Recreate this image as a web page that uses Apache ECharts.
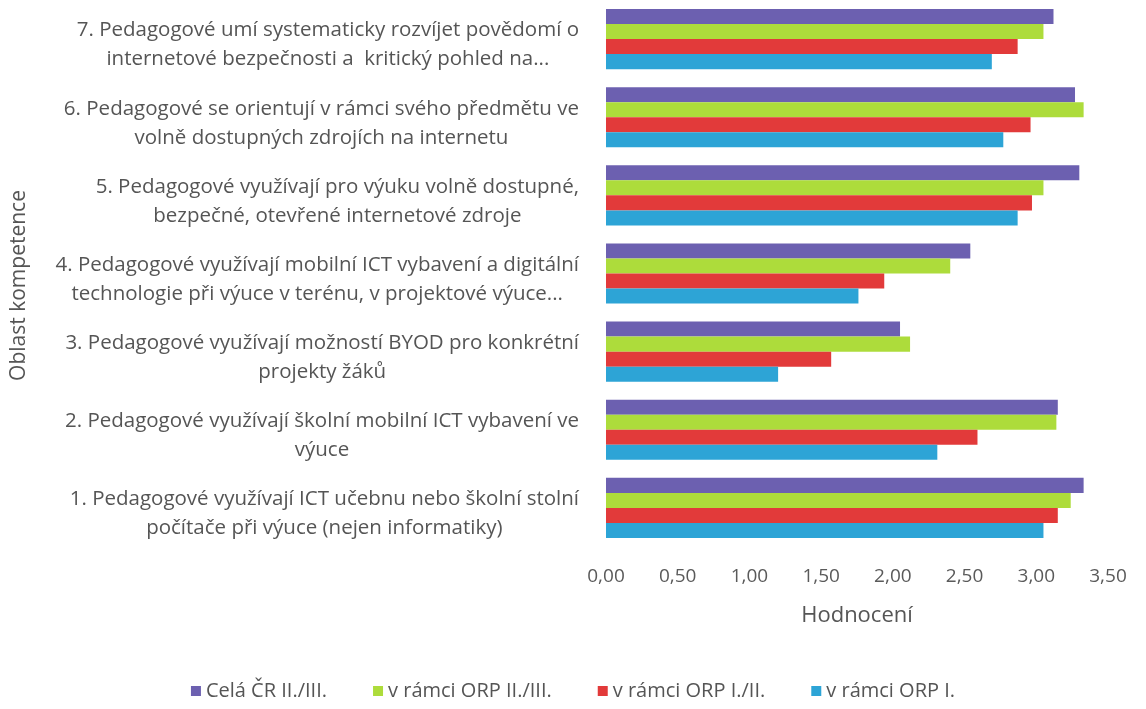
<!DOCTYPE html>
<html>
<head>
<meta charset="utf-8">
<title>Oblast kompetence - hodnocení</title>
<script src="https://cdn.jsdelivr.net/npm/echarts@6.0.0/dist/echarts.min.js"></script>
<style>
  html, body { margin: 0; padding: 0; background: #fff; }
  #chart { width: 1146px; height: 709px; }
</style>
</head>
<body>
<div id="chart"></div>
<script>
  // kategorie shora dolů (osa y je obrácená)
  var categories = [
    '7. Pedagogové umí systematicky rozvíjet povědomí o\ninternetové bezpečnosti a  kritický pohled na...',
    '6. Pedagogové se orientují v rámci svého předmětu ve\nvolně dostupných zdrojích na internetu',
    '5. Pedagogové využívají pro výuku volně dostupné,\nbezpečné, otevřené internetové zdroje',
    '4. Pedagogové využívají mobilní ICT vybavení a digitální\ntechnologie při výuce v terénu, v projektové výuce...',
    '3. Pedagogové využívají možností BYOD pro konkrétní\nprojekty žáků',
    '2. Pedagogové využívají školní mobilní ICT vybavení ve\nvýuce',
    '1. Pedagogové využívají ICT učebnu nebo školní stolní\npočítače při výuce (nejen informatiky)'
  ];

  var seriesNames = ['Celá ČR II./III.', 'v rámci ORP II./III.', 'v rámci ORP I./II.', 'v rámci ORP I.'];
  var seriesColors = ['#6C60B0', '#ADDC3B', '#E23A3A', '#2DA4D6'];

  var celaCR = [3.12, 3.27, 3.30, 2.54, 2.05, 3.15, 3.33];
  var orpIIIII = [3.05, 3.33, 3.05, 2.40, 2.12, 3.14, 3.24];
  var orpIII = [2.87, 2.96, 2.97, 1.94, 1.57, 2.59, 3.15];
  var orpI = [2.69, 2.77, 2.87, 1.76, 1.20, 2.31, 3.05];

  var xTicks = { min: 0, max: 3.5, interval: 0.5 };

  var seriesData = [celaCR, orpIIIII, orpIII, orpI];
  var font = '"Open Sans", "Noto Sans", sans-serif';

  var myChart = echarts.init(document.getElementById('chart'));

  var series = [];
  for (var i = 0; i < seriesNames.length; i++) {
    series.push({
      name: seriesNames[i],
      type: 'bar',
      data: seriesData[i],
      barGap: '0%',
      barCategoryGap: '23%',
      itemStyle: { color: seriesColors[i] }
    });
  }

  myChart.setOption({
    animation: false,
    grid: {
      left: 606,
      right: 38,
      top: 0,
      bottom: 162
    },
    legend: {
      data: seriesNames,
      top: 676,
      left: 'center',
      icon: 'rect',
      itemWidth: 10,
      itemHeight: 10,
      itemGap: 46,
      textStyle: { fontFamily: font, fontSize: 20, color: '#555' }
    },
    xAxis: {
      type: 'value',
      min: xTicks.min,
      max: xTicks.max,
      interval: xTicks.interval,
      name: 'Hodnocení',
      nameLocation: 'middle',
      nameGap: 58,
      nameTextStyle: { fontFamily: font, fontSize: 22, color: '#555' },
      axisLine: { show: false },
      axisTick: { show: false },
      splitLine: { show: false },
      axisLabel: {
        margin: 20,
        fontFamily: font,
        fontSize: 19,
        color: '#5a5a5a',
        formatter: function (v) {
          return v.toFixed(2).replace('.', ',');
        }
      }
    },
    yAxis: {
      type: 'category',
      inverse: true,
      data: categories,
      name: 'Oblast kompetence',
      nameLocation: 'middle',
      nameGap: 576,
      nameRotate: 90,
      nameTextStyle: { fontFamily: font, fontSize: 21, color: '#555', padding: [0, 24, 0, 0] },
      axisLine: { show: false },
      axisTick: { show: false },
      axisLabel: {
        margin: 27,
        interval: 0,
        align: 'right',
        padding: [12, 0, 0, 0],
        // každý řádek vycentrovat v rámci bloku (jako v Excelu)
        formatter: function (v) {
          return v.split('\n').map(function (l) { return '{c|' + l + '}'; }).join('\n');
        },
        rich: {
          c: {
            align: 'center',
            fontFamily: font,
            fontSize: 20.5,
            lineHeight: 29,
            color: '#555'
          }
        }
      }
    },
    series: series
  });
</script>
</body>
</html>
